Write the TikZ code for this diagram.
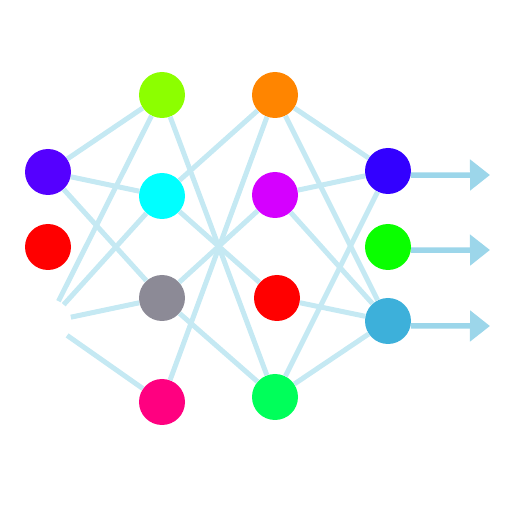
\documentclass[tikz,border=0pt]{standalone}
\usepackage{tikz}
\usetikzlibrary{arrows.meta}

\definecolor{linkblue}{HTML}{C5E9F3}
\definecolor{outblue}{HTML}{9CD6EA}
\definecolor{cA}{HTML}{5500FF}
\definecolor{cB}{HTML}{FF0000}
\definecolor{cC}{HTML}{8CFF00}
\definecolor{cD}{HTML}{00FFFF}
\definecolor{cE}{HTML}{8C8A96}
\definecolor{cF}{HTML}{FF0080}
\definecolor{cG}{HTML}{FF8500}
\definecolor{cH}{HTML}{D500FF}
\definecolor{cI}{HTML}{00FF5A}
\definecolor{cJ}{HTML}{3300FF}
\definecolor{cK}{HTML}{0AFF00}
\definecolor{cL}{HTML}{3DB0DA}

\begin{document}
\begin{tikzpicture}[
    neuron/.style={circle, minimum size=0.92cm, inner sep=0pt, fill=#1},
    link/.style={draw=linkblue, line width=0.1cm},
    output/.style={draw=outblue, line width=0.11cm, -{Triangle[length=0.4cm, width=0.6cm]}}
]
    \useasboundingbox (0,0) rectangle (10.24,10.24);

    % 输入层
    \node[neuron=cA] (a1) at (0.96, 6.8) {};
    \node[neuron=cB] (a2) at (0.96, 5.3) {};
    \node[circle, minimum size=0.92cm, inner sep=0pt] (a3) at (0.96, 3.8) {};

    % 隐藏层 1
    \node[neuron=cC] (b1) at (3.24, 8.34) {};
    \node[neuron=cD] (b2) at (3.24, 6.32) {};
    \node[neuron=cE] (b3) at (3.24, 4.28) {};
    \node[neuron=cF] (b4) at (3.24, 2.2) {};

    % 隐藏层 2
    \node[neuron=cG] (c1) at (5.5, 8.34) {};
    \node[neuron=cH] (c2) at (5.5, 6.34) {};
    \node[neuron=cB] (c3) at (5.54, 4.28) {};
    \node[neuron=cI] (c4) at (5.5, 2.3) {};

    % 输出层
    \node[neuron=cJ] (d1) at (7.76, 6.82) {};
    \node[neuron=cK] (d2) at (7.76, 5.3) {};
    \node[neuron=cL] (d3) at (7.76, 3.82) {};

    \coordinate (o1) at (9.8, 6.74);
    \coordinate (o2) at (9.8, 5.24);
    \coordinate (o3) at (9.8, 3.72);

    % 连线
    \draw[link] (a1) -- (b1);
    \draw[link] (a1) -- (b2);
    \draw[link] (a1) -- (b3);
    \draw[link] (a3) -- (b1);
    \draw[link] (a3) -- (b2);
    \draw[link] (a3) -- (b3);
    \draw[link] (a3) -- (b4);

    \draw[link] (b1) -- (c4);
    \draw[link] (b2) -- (c1);
    \draw[link] (b2) -- (c3);
    \draw[link] (b3) -- (c2);
    \draw[link] (b3) -- (c4);
    \draw[link] (b4) -- (c1);

    \draw[link] (c1) -- (d1);
    \draw[link] (c1) -- (d3);
    \draw[link] (c2) -- (d1);
    \draw[link] (c2) -- (d3);
    \draw[link] (c3) -- (d3);
    \draw[link] (c4) -- (d1);
    \draw[link] (c4) -- (d3);

    % 输出箭头
    \draw[output] (d1.-10) -- (o1);
    \draw[output] (d2.-8) -- (o2);
    \draw[output] (d3.-12) -- (o3);
\end{tikzpicture}
\end{document}
